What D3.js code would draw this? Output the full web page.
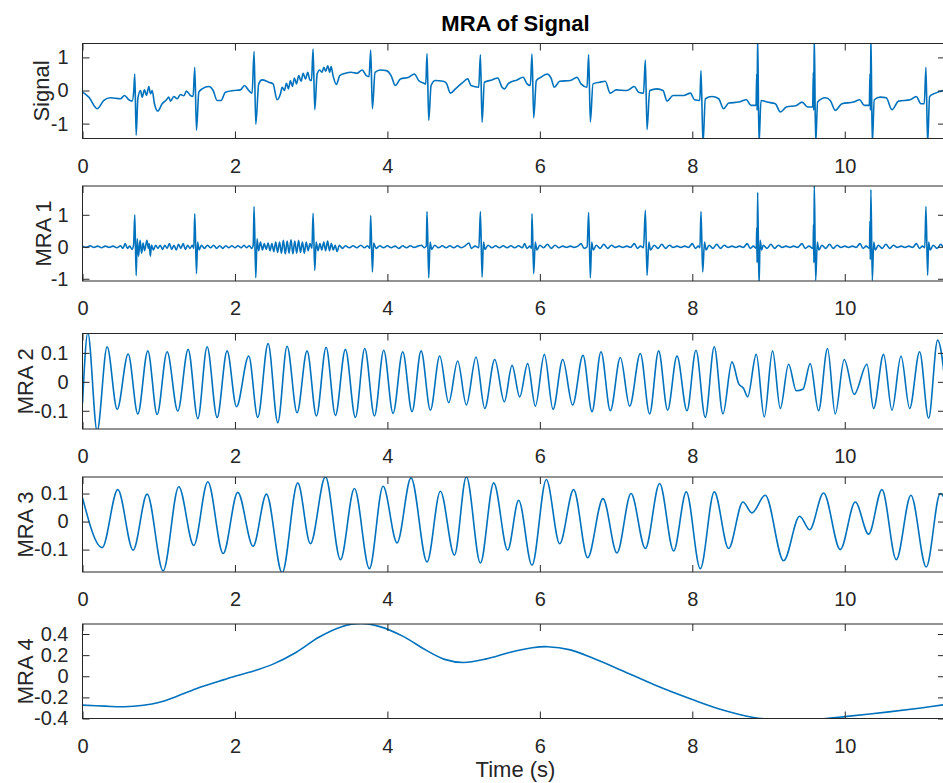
<!DOCTYPE html>
<html><head><meta charset="utf-8">
<script src="https://cdn.jsdelivr.net/npm/d3@7"></script>
<style>html,body{margin:0;padding:0;background:#fff;}svg{display:block;}</style>
</head><body>
<svg id="chart" width="943" height="783"></svg>
<script>
// ---------- data ----------
const chartTitle = "MRA of Signal";
const xAxisLabel = "Time (s)";
const timeTicks = [0, 2, 4, 6, 8, 10];
const panelNames = ["Signal", "MRA 1", "MRA 2", "MRA 3", "MRA 4"];
const signalTicks = [-1, 0, 1];
const mra1Ticks = [-1, 0, 1];
const mra2Ticks = [-0.1, 0, 0.1];
const mra3Ticks = [-0.1, 0, 0.1];
const mra4Ticks = [-0.4, -0.2, 0, 0.2, 0.4];

const signal = [
[0,-0.05],[0.083,-0.2],[0.192,-0.55],[0.28,-0.3],[0.367,-0.22],[0.498,-0.25],[0.551,-0.15],[0.608,-0.28],[0.651,-0.32],[0.673,0],[0.686,0.5],[0.704,-1.35],[0.726,-0.25],
[0.761,0],[0.783,-0.2],[0.813,0.02],[0.839,-0.15],[0.870,0.12],[0.892,-0.1],[0.914,0],[0.944,-0.4],[0.988,-0.62],[1.045,-0.4],[1.102,-0.28],[1.132,-0.2],[1.154,-0.32],[1.198,-0.18],[1.242,-0.25],[1.285,-0.12],[1.329,-0.16],[1.364,-0.02],[1.416,-0.15],[1.451,-0.18],
[1.473,0.7],[1.495,-1.2],[1.526,-0.05],[1.57,0.05],[1.657,0.12],[1.714,0],[1.766,-0.3],[1.818,-0.3],[1.875,-0.05],[1.985,0],[2.072,0.02],[2.125,0.15],[2.181,0],[2.225,-0.08],
[2.251,1.18],[2.273,-1.02],[2.312,0.2],[2.356,0.32],[2.443,0.25],[2.5,0.2],[2.553,-0.28],[2.597,-0.1],
[2.619,0.1],[2.649,0],[2.675,0.22],[2.702,0.05],[2.728,0.3],[2.754,0.12],[2.78,0.38],[2.807,0.2],[2.837,0.45],[2.868,0.28],[2.894,0.52],[2.925,0.35],[2.955,0.55],[2.982,0.32],[3.004,0.3],
[3.025,1.25],[3.047,-0.58],[3.078,0.5],[3.112,0.62],[3.143,0.55],[3.165,0.7],[3.191,0.58],[3.217,0.75],[3.244,0.55],[3.261,0.72],[3.287,0.45],[3.331,0.18],[3.375,0.45],[3.449,0.52],[3.523,0.55],[3.602,0.52],[3.668,0.62],[3.724,0.45],[3.759,0.42],
[3.781,1.22],[3.803,-0.55],[3.838,0.55],[3.908,0.62],[3.987,0.6],[4.048,0.45],[4.105,0.15],[4.171,0.35],[4.28,0.4],[4.354,0.5],[4.411,0.3],[4.477,0.22],[4.503,0.2],
[4.520,1.12],[4.542,-0.9],[4.573,0.15],[4.63,0.3],[4.731,0.28],[4.774,0.22],[4.826,-0.08],[4.892,0.05],[4.979,0.22],[5.053,0.35],[5.097,0.15],[5.198,0.1],
[5.220,1.08],[5.242,-0.96],[5.272,0.25],[5.373,0.32],[5.447,0.38],[5.504,0.1],[5.535,0.05],[5.591,0.22],
[5.613,0.25],[5.701,0.32],[5.78,0.4],[5.832,0.2],[5.875,0.15],
[5.897,1.1],[5.919,-0.82],[5.954,0.3],[6.028,0.42],[6.094,0.5],[6.146,0.38],[6.19,0.1],[6.26,0.28],[6.4,0.3],[6.487,0.4],[6.54,0.2],[6.619,0.1],
[6.640,1.08],[6.662,-0.95],[6.697,0.2],[6.784,0.25],[6.858,0.28],[6.923,-0.08],[7.002,0.02],[7.142,0],[7.238,0.12],[7.295,-0.05],[7.36,-0.08],
[7.384,0.92],[7.406,-1.18],[7.441,0],[7.537,0.05],[7.616,0],[7.669,-0.32],[7.748,-0.15],[7.888,-0.15],[7.976,-0.08],[8.028,-0.28],[8.098,-0.3],
[8.114,0.6],[8.14,-1.6],[8.171,-0.25],[8.258,-0.18],[8.346,-0.25],[8.411,-0.55],[8.477,-0.38],[8.608,-0.35],[8.709,-0.28],[8.77,-0.45],[8.836,-0.45],[8.845,0.5],[8.85,-0.6],
[8.857,1.7],[8.875,-1.6],[8.901,-0.3],[8.98,-0.35],[9.089,-0.4],[9.155,-0.65],[9.234,-0.5],[9.365,-0.45],[9.439,-0.35],[9.513,-0.5],[9.579,-0.5],[9.588,0.55],[9.593,-0.6],
[9.600,1.7],[9.618,-1.6],[9.644,-0.35],[9.745,-0.22],[9.81,-0.3],[9.876,-0.6],[9.963,-0.4],[10.116,-0.35],[10.195,-0.28],[10.256,-0.45],[10.322,-0.45],[10.331,0.5],[10.336,-0.6],
[10.343,1.7],[10.361,-1.6],[10.387,-0.28],[10.466,-0.2],[10.544,-0.22],[10.619,-0.58],[10.706,-0.32],[10.859,-0.28],[10.938,-0.18],[10.999,-0.4],[11.043,-0.4],
[11.065,0.7],[11.087,-1.6],[11.113,-0.18],[11.188,-0.08],[11.292,0],[11.35,0.02]
];

const mra1 = [
[0,0.02],[0.05,-0.02],[0.1,0.03],[0.15,-0.02],[0.2,0.02],[0.25,-0.03],[0.3,0.02],[0.35,-0.02],[0.4,0.02],[0.45,-0.03],[0.5,0.03],[0.53,-0.05],[0.56,0.1],[0.59,-0.05],[0.62,0.02],[0.65,-0.08],[0.67,0.05],
[0.686,1.0],[0.704,-0.9],[0.718,0.25],[0.735,-0.3],[0.755,0.2],[0.775,-0.2],[0.795,0.12],[0.815,-0.12],[0.845,0.2],[0.865,-0.05],[0.875,0.1],[0.89,-0.3],[0.905,0.05],[0.93,-0.1],[0.96,0.05],[0.99,-0.05],[1.02,0.05],[1.05,-0.08],[1.08,0.05],[1.11,-0.05],[1.14,0.1],[1.17,-0.08],[1.2,0.05],[1.23,-0.1],[1.26,0.08],[1.29,-0.05],[1.32,0.1],[1.35,-0.08],[1.38,0.05],[1.41,-0.05],[1.44,0.05],[1.46,-0.05],
[1.473,1.03],[1.495,-0.84],[1.51,0.15],[1.53,-0.1],[1.56,0.05],[1.6,-0.05],[1.64,0.05],[1.68,-0.03],[1.72,0.05],[1.76,-0.05],[1.8,0.03],[1.84,-0.05],[1.88,0.03],[1.92,-0.03],[1.96,0.03],[2.0,-0.03],[2.04,0.03],[2.08,-0.03],[2.12,0.05],[2.15,-0.03],[2.19,0.03],[2.22,-0.05],[2.24,0.05],
[2.251,1.26],[2.273,-0.97],[2.29,0.25],[2.31,-0.12],[2.335,0.15],[2.36,-0.1],[2.385,0.1],[2.41,-0.08],[2.435,0.12],[2.46,-0.12],[2.485,0.1],[2.51,-0.15],[2.535,0.15],[2.56,-0.18],[2.585,0.15],[2.61,-0.2],[2.635,0.2],[2.66,-0.22],[2.685,0.18],[2.71,-0.2],[2.735,0.22],[2.76,-0.22],[2.785,0.18],[2.81,-0.2],[2.835,0.2],[2.86,-0.18],[2.885,0.15],[2.91,-0.2],[2.935,0.15],[2.96,-0.12],[2.985,0.1],[3.01,-0.05],
[3.025,1.05],[3.047,-0.74],[3.065,0.15],[3.09,-0.12],[3.115,0.1],[3.14,-0.1],[3.165,0.15],[3.19,-0.12],[3.215,0.18],[3.24,-0.12],[3.265,0.1],[3.29,-0.1],[3.315,0.05],[3.34,-0.15],[3.37,0.05],[3.41,-0.05],[3.45,0.03],[3.5,-0.03],[3.55,0.03],[3.6,-0.03],[3.65,0.05],[3.7,-0.03],[3.74,0.03],[3.77,-0.05],
[3.781,0.98],[3.803,-0.79],[3.82,0.12],[3.85,-0.05],[3.9,0.03],[3.95,-0.03],[4.0,0.03],[4.05,-0.03],[4.1,0.02],[4.15,-0.05],[4.2,0.03],[4.25,-0.03],[4.3,0.03],[4.35,-0.02],[4.4,0.02],[4.45,0.05],[4.48,-0.03],[4.51,0.03],
[4.520,1.1],[4.542,-0.97],[4.56,0.15],[4.58,-0.08],[4.62,0.05],[4.67,-0.03],[4.72,0.03],[4.77,-0.03],[4.82,0.03],[4.87,-0.03],[4.92,0.03],[4.97,-0.03],[5.02,0.03],[5.07,0.12],[5.1,-0.05],[5.15,0.02],[5.2,-0.03],
[5.220,1.1],[5.242,-0.95],[5.26,0.15],[5.28,-0.08],[5.32,0.05],[5.37,-0.03],[5.42,0.03],[5.47,-0.03],[5.52,0.03],[5.57,-0.03],[5.62,0.03],[5.67,-0.03],[5.72,0.03],[5.77,-0.03],[5.8,0.1],[5.83,-0.05],[5.87,0.02],[5.89,-0.05],
[5.897,1.03],[5.919,-0.84],[5.94,0.15],[5.96,-0.1],[6.0,0.05],[6.05,-0.03],[6.1,0.08],[6.15,-0.05],[6.2,0.05],[6.25,-0.03],[6.3,0.02],[6.35,-0.02],[6.4,0.02],[6.45,-0.02],[6.5,0.02],[6.54,0.1],[6.58,-0.05],[6.62,0.0],
[6.640,1.07],[6.662,-0.97],[6.68,0.15],[6.7,-0.1],[6.74,0.05],[6.79,-0.05],[6.84,0.08],[6.89,-0.05],[6.94,0.05],[6.99,-0.02],[7.04,0.02],[7.09,-0.02],[7.14,0.02],[7.19,-0.02],[7.24,0.1],[7.28,-0.05],[7.32,0.02],[7.36,-0.03],
[7.384,1.14],[7.406,-0.89],[7.43,0.15],[7.45,-0.1],[7.5,0.05],[7.55,-0.05],[7.6,0.08],[7.65,-0.05],[7.7,0.05],[7.75,-0.02],[7.8,0.02],[7.85,-0.02],[7.9,0.02],[7.95,-0.02],[8.0,0.1],[8.04,-0.05],[8.08,0.02],[8.1,-0.03],
[8.114,1.1],[8.136,-0.79],[8.16,0.15],[8.18,-0.1],[8.22,0.05],[8.27,-0.05],[8.32,0.08],[8.37,-0.05],[8.42,0.05],[8.47,-0.02],[8.52,0.02],[8.57,-0.02],[8.62,0.02],[8.67,-0.02],[8.72,0.1],[8.76,-0.05],[8.8,0.02],[8.84,-0.05],[8.845,0.6],[8.85,-0.5],
[8.857,1.7],[8.875,-1.2],[8.89,0.2],[8.91,-0.1],[8.93,0.05],[8.98,-0.05],[9.03,0.08],[9.08,-0.05],[9.13,0.05],[9.18,-0.02],[9.23,0.02],[9.28,-0.02],[9.33,0.02],[9.38,-0.02],[9.44,0.1],[9.48,-0.05],[9.53,0.02],[9.585,-0.05],[9.59,0.7],[9.595,-0.5],
[9.600,2.0],[9.618,-1.05],[9.64,0.15],[9.66,-0.1],[9.7,0.05],[9.75,-0.05],[9.8,0.08],[9.85,-0.05],[9.9,0.05],[9.95,-0.02],[10.0,0.02],[10.05,-0.02],[10.1,0.02],[10.15,-0.02],[10.2,0.1],[10.24,-0.05],[10.28,0.02],[10.325,-0.05],[10.33,0.8],[10.335,-0.4],
[10.343,1.79],[10.361,-1.05],[10.38,0.15],[10.4,-0.1],[10.44,0.05],[10.49,-0.05],[10.54,0.08],[10.59,-0.05],[10.64,0.05],[10.69,-0.02],[10.74,0.02],[10.79,-0.02],[10.84,0.02],[10.89,-0.02],[10.94,0.1],[10.98,-0.05],[11.02,0.02],[11.05,-0.03],
[11.065,1.26],[11.087,-0.89],[11.1,0.15],[11.12,-0.1],[11.16,0.05],[11.21,-0.05],[11.26,0.08],[11.3,-0.03],[11.35,0]
];

const mra2 = [
[0,-0.075],[0.07,0.17],[0.192,-0.17],[0.323,0.121],[0.455,-0.095],[0.599,0.096],[0.726,-0.111],[0.857,0.107],[0.979,-0.113],[1.110,0.104],[1.250,-0.101],[1.386,0.112],[1.513,-0.127],[1.635,0.121],[1.766,-0.123],[1.897,0.107],[2.020,-0.086],[2.181,0.089],[2.299,-0.123],[2.435,0.132],[2.562,-0.141],[2.684,0.123],[2.815,-0.107],[2.946,0.107],[3.069,-0.118],[3.196,0.119],[3.318,-0.116],[3.449,0.112],[3.580,-0.123],[3.703,0.115],[3.830,-0.118],[3.952,0.109],[4.074,-0.109],[4.201,0.104],[4.323,-0.103],[4.442,0.107],[4.564,-0.098],[4.686,0.089],[4.804,-0.072],[4.922,0.072],[5.036,-0.080],[5.163,0.086],[5.277,-0.092],[5.408,0.077],[5.534,-0.069],
[5.635,0.057],[5.736,-0.052],[5.840,0.063],[5.941,-0.084],[6.059,0.095],[6.173,-0.095],[6.300,0.077],[6.430,-0.080],[6.566,0.092],[6.684,-0.103],[6.802,0.104],[6.925,-0.100],[7.056,0.084],[7.178,-0.084],[7.318,0.098],[7.440,-0.111],[7.558,0.107],[7.676,-0.098],[7.799,0.089],[7.930,-0.100],[8.048,0.109],[8.170,-0.123],[8.288,0.121],[8.402,-0.111],[8.520,0.069],[8.608,-0.006],[8.673,-0.023],[8.726,-0.052],[8.839,0.095],[8.944,-0.121],[9.053,0.107],[9.154,-0.092],[9.263,0.061],[9.364,-0.031],[9.451,-0.026],[9.547,0.063],[9.656,-0.100],[9.774,0.115],[9.875,-0.111],[9.993,0.077],[10.124,-0.043],[10.291,0.061],[10.378,-0.092],[10.509,0.095],[10.619,-0.098],[10.738,0.089],[10.851,-0.092],[10.982,0.104],[11.100,-0.126],[11.218,0.144],[11.34,-0.06]
];

const mra3 = [
[0,0.085],[0.258,-0.093],[0.463,0.114],[0.664,-0.102],[0.848,0.098],[1.058,-0.176],[1.263,0.124],[1.460,-0.085],[1.644,0.142],[1.845,-0.114],[2.037,0.104],[2.238,-0.088],[2.413,0.098],[2.619,-0.183],[2.824,0.138],[2.990,-0.079],[3.187,0.160],[3.384,-0.136],[3.567,0.118],[3.764,-0.168],[3.943,0.126],[4.127,-0.076],[4.310,0.156],[4.520,-0.144],[4.695,0.108],[4.879,-0.120],[5.036,0.160],[5.220,-0.148],[5.395,0.138],[5.578,-0.102],
[5.722,0.076],[5.897,-0.156],[6.085,0.150],[6.260,-0.079],[6.443,0.114],[6.627,-0.129],[6.828,0.082],[7.012,-0.112],[7.196,0.100],[7.384,-0.096],[7.571,0.136],[7.755,-0.105],[7.921,0.106],[8.105,-0.168],[8.288,0.106],[8.476,-0.096],[8.664,0.070],[8.782,0.031],[8.957,0.094],[9.198,-0.140],[9.408,0.019],[9.539,-0.029],[9.722,0.102],[9.941,-0.100],[10.138,0.070],[10.313,-0.045],[10.488,0.114],[10.676,-0.136],[10.868,0.094],[11.069,-0.162],[11.253,0.100],[11.35,0.06]
];

const mra4 = [
[0,-0.273],[0.3,-0.283],[0.55,-0.289],[0.8,-0.274],[1.0,-0.248],[1.2,-0.2],[1.5,-0.115],[1.8,-0.045],[2.0,0.0],[2.2,0.04],[2.5,0.115],[2.8,0.225],[3.1,0.37],[3.4,0.47],[3.65,0.5],[3.9,0.47],[4.2,0.38],[4.5,0.25],[4.75,0.16],[5.0,0.13],[5.3,0.165],[5.6,0.225],[5.9,0.27],[6.1,0.28],[6.4,0.25],[6.7,0.17],[7.06,0.06],[7.5,-0.08],[8.0,-0.22],[8.4,-0.32],[8.8,-0.39],[9.24,-0.415],[9.68,-0.405],[10.03,-0.38],[10.55,-0.34],[11.0,-0.3],[11.35,-0.265]
];

// ---------- layout ----------
const svg = d3.select("#chart");
const font = "'Liberation Sans', Arial, Helvetica, sans-serif";
const ink = "#262626";
const lineBlue = "#0072BD";
const left = 82.5, right = 945;
const x = d3.scaleLinear().domain([0, 11.315]).range([left, right]);

const panels = [
  {name: panelNames[0], data: signal, ticks: signalTicks, top: 43.5, bottom: 138.5, domain: [-1.45, 1.42], labelX: 49, curve: d3.curveMonotoneX},
  {name: panelNames[1], data: mra1, ticks: mra1Ticks, top: 186, bottom: 281, domain: [-1.07, 1.9], labelX: 51, curve: d3.curveMonotoneX},
  {name: panelNames[2], data: mra2, ticks: mra2Ticks, top: 333.5, bottom: 429, domain: [-0.163, 0.167], labelX: 33, curve: d3.curveMonotoneX},
  {name: panelNames[3], data: mra3, ticks: mra3Ticks, top: 477, bottom: 572, domain: [-0.18, 0.159], labelX: 33, curve: d3.curveMonotoneX},
  {name: panelNames[4], data: mra4, ticks: mra4Ticks, top: 624, bottom: 718.5, domain: [-0.4, 0.495], labelX: 33, curve: d3.curveCatmullRom.alpha(0.5)}
];

const tickLen = 7;

panels.forEach((p, i) => {
  const y = d3.scaleLinear().domain(p.domain).range([p.bottom, p.top]);
  const g = svg.append("g");
  const clipId = "clip" + i;
  svg.append("defs").append("clipPath").attr("id", clipId)
    .append("rect").attr("x", left).attr("y", p.top).attr("width", right - left).attr("height", p.bottom - p.top);

  const line = d3.line().x(d => x(d[0])).y(d => y(d[1])).curve(p.curve);
  g.append("path").datum(p.data)
    .attr("clip-path", `url(#${clipId})`)
    .attr("fill", "none").attr("stroke", lineBlue).attr("stroke-width", 1.6)
    .attr("stroke-linejoin", "round")
    .attr("d", line);

  const xb = d3.axisBottom(x).tickValues(timeTicks).tickSize(-tickLen).tickPadding(tickLen + 13).tickFormat(d => String(d));
  const gxb = g.append("g").attr("transform", `translate(0,${p.bottom})`).call(xb);
  const xt = d3.axisTop(x).tickValues(timeTicks).tickSize(-tickLen).tickFormat("");
  const gxt = g.append("g").attr("transform", `translate(0,${p.top})`).call(xt);
  const yl = d3.axisLeft(y).tickValues(p.ticks).tickSize(-tickLen).tickPadding(tickLen + 7).tickFormat(d => String(d));
  const gyl = g.append("g").attr("transform", `translate(${left},0)`).call(yl);
  const yr = d3.axisRight(y).tickValues(p.ticks).tickSize(-tickLen).tickFormat("");
  const gyr = g.append("g").attr("transform", `translate(${right},0)`).call(yr);

  [gxb, gxt, gyl, gyr].forEach(a => {
    a.select(".domain").remove();
    a.selectAll(".tick line").attr("stroke", ink).attr("stroke-width", 1);
    a.selectAll(".tick text").attr("fill", ink).attr("font-family", font).attr("font-size", 20);
  });

  g.append("rect").attr("x", left).attr("y", p.top)
    .attr("width", right - left).attr("height", p.bottom - p.top)
    .attr("fill", "none").attr("stroke", ink).attr("stroke-width", 1);

  g.append("text")
    .attr("transform", `translate(${p.labelX},${(p.top + p.bottom) / 2}) rotate(-90)`)
    .attr("text-anchor", "middle")
    .attr("fill", ink).attr("font-family", font).attr("font-size", 22)
    .text(p.name);
});

svg.append("text").attr("x", 515.5).attr("y", 31)
  .attr("text-anchor", "middle").attr("font-family", font).attr("font-size", 22)
  .attr("font-weight", "bold").attr("fill", "#000").text(chartTitle);

svg.append("text").attr("x", 515.5).attr("y", 777)
  .attr("text-anchor", "middle").attr("font-family", font).attr("font-size", 22)
  .attr("fill", ink).text(xAxisLabel);
</script>
</body></html>
